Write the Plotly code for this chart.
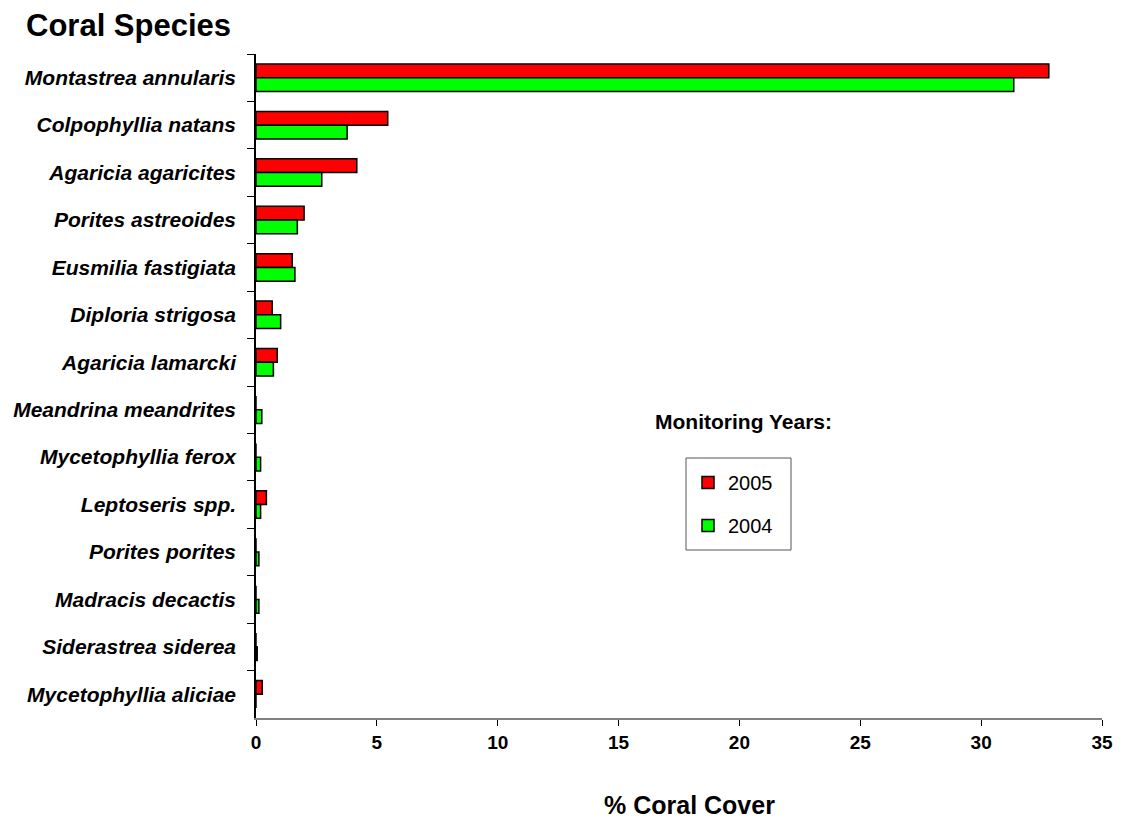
import plotly.graph_objects as go

species = ["Montastrea annularis", "Colpophyllia natans", "Agaricia agaricites",
           "Porites astreoides", "Eusmilia fastigiata", "Diploria strigosa",
           "Agaricia lamarcki", "Meandrina meandrites", "Mycetophyllia ferox",
           "Leptoseris spp.", "Porites porites", "Madracis decactis",
           "Siderastrea siderea", "Mycetophyllia aliciae"]
cover_2005 = [32.8, 5.45, 4.17, 1.99, 1.50, 0.67, 0.88, 0, 0, 0.43, 0, 0, 0, 0.26]
cover_2004 = [31.35, 3.77, 2.72, 1.71, 1.61, 1.02, 0.72, 0.24, 0.19, 0.19, 0.12, 0.12, 0.05, 0]
x_ticks = [0, 5, 10, 15, 20, 25, 30, 35]

FONT = "Arial, Liberation Sans, sans-serif"

# page body adds an 8px offset; plot area on screen spans x 256..1102, y 54..718
L, T, R, B = 248, 46, 1094, 710
PW, PH = R - L, B - T


def px(xs):
    return (xs - 8 - L) / PW


def py(ys):
    return (B - (ys - 8)) / PH


fig = go.Figure()
fig.add_trace(go.Bar(y=species, x=cover_2005, orientation="h", name="2005",
                     marker=dict(color="#ff0000", line=dict(color="black", width=1.5)),
                     legendgroup="a"))
fig.add_trace(go.Bar(y=species, x=cover_2004, orientation="h", name="2004",
                     marker=dict(color="#00ff00", line=dict(color="black", width=1.5)),
                     legendgroup="b"))

fig.update_layout(
    width=1122, height=823,
    paper_bgcolor="white", plot_bgcolor="white",
    margin=dict(l=L, r=1122 - R, t=T, b=823 - B, autoexpand=False),
    barmode="group", bargap=0.42, bargroupgap=0,
    font=dict(family=FONT, color="black"),
    showlegend=True,
    legend=dict(x=px(688), y=py(463), xanchor="left", yanchor="top",
                borderwidth=0, bgcolor="rgba(0,0,0,0)",
                font=dict(size=20, family=FONT), tracegroupgap=14,
                traceorder="grouped", itemwidth=30),
    xaxis=dict(range=[0, 35], tickvals=x_ticks, showgrid=False, zeroline=False,
               showline=True, linecolor="#808080", linewidth=2, automargin=False,
               ticks="outside", ticklen=6, tickcolor="black",
               tickfont=dict(size=19, family=FONT, weight="bold")),
    yaxis=dict(categoryorder="array", categoryarray=species, autorange="reversed",
               showgrid=False, showline=True, linecolor="black", linewidth=1.5,
               automargin=False,
               ticks="outside", ticklen=7, tickcolor="black", tickson="boundaries",
               tickfont=dict(size=21, family=FONT, weight="bold", style="italic"),
               ticklabelstandoff=14),
    shapes=[
        dict(type="rect", xref="paper", yref="paper",
             x0=px(686), x1=px(791), y0=py(550), y1=py(458),
             line=dict(color="#555555", width=1), fillcolor="white", layer="below"),
    ],
    annotations=[
        dict(text="<b>Coral Species</b>", x=px(24), y=py(26), xref="paper", yref="paper",
             xanchor="left", yanchor="middle", showarrow=False,
             font=dict(size=31, family=FONT)),
        dict(text="<b>% Coral Cover</b>", x=px(689.5), y=py(805), xref="paper", yref="paper",
             xanchor="center", yanchor="middle", showarrow=False,
             font=dict(size=25, family=FONT)),
        dict(text="<b>Monitoring Years:</b>", x=px(743.5), y=py(421), xref="paper", yref="paper",
             xanchor="center", yanchor="middle", showarrow=False,
             font=dict(size=21, family=FONT)),
    ],
)

fig.write_html("out.html")
